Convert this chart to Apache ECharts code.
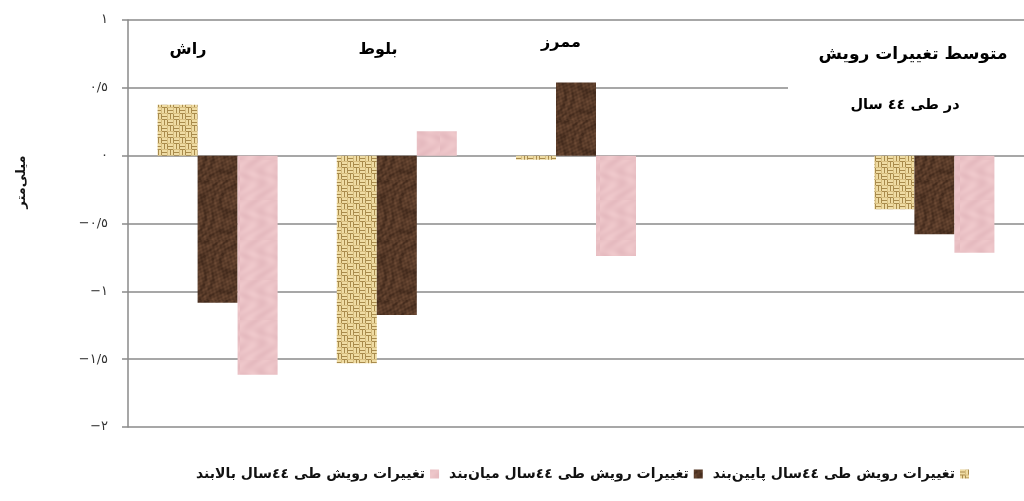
<!DOCTYPE html>
<html>
<head>
<meta charset="utf-8">
<script src="https://cdn.jsdelivr.net/npm/echarts@6/dist/echarts.min.js"></script>
<style>
html,body{margin:0;padding:0;background:#fff;}
#chart{width:1024px;height:501px;}
</style>
</head>
<body>
<div id="chart"></div>
<script>
// ---- data ----
const categories = ['راش', 'بلوط', 'ممرز', '', 'متوسط تغییرات رویش\nدر طی ٤٤ سال'];
const seriesNames = [
  'تغییرات رویش طی ٤٤سال پایین‌بند',
  'تغییرات رویش طی ٤٤سال میان‌بند',
  'تغییرات رویش طی ٤٤سال بالابند'
];
const lowerValues = [0.375, -1.53, -0.03, null, -0.395];
const middleValues = [-1.085, -1.175, 0.54, null, -0.58];
const upperValues = [-1.615, 0.18, -0.74, null, -0.715];
const yAxisName = 'میلی‌متر';

// ---- textures ----
function weavePattern() {
  const c = document.createElement('canvas');
  c.width = 12; c.height = 12;
  const g = c.getContext('2d');
  g.fillStyle = '#a98b4c'; g.fillRect(0, 0, 12, 12);
  g.fillStyle = '#efdca4';
  // TL & BR: horizontal strands, TR & BL: vertical strands
  g.fillRect(0, 0, 6, 2); g.fillRect(0, 3, 6, 2);
  g.fillRect(6, 6, 6, 2); g.fillRect(6, 9, 6, 2);
  g.fillRect(6, 0, 2, 6); g.fillRect(9, 0, 2, 6);
  g.fillRect(0, 6, 2, 6); g.fillRect(3, 6, 2, 6);
  g.fillStyle = '#d8bf80';
  g.fillRect(5, 0, 1, 6); g.fillRect(11, 6, 1, 6);
  g.fillRect(6, 5, 6, 1); g.fillRect(0, 11, 6, 1);
  return c;
}
function marblePattern() {
  const w = 60, h = 60;
  const c = document.createElement('canvas');
  c.width = w; c.height = h;
  const g = c.getContext('2d');
  const img = g.createImageData(w, h);
  for (let y = 0; y < h; y++) {
    for (let x = 0; x < w; x++) {
      const t = Math.sin((x * 0.21 + y * 0.13) + 2.2 * Math.sin(y * 0.105) + 1.5 * Math.sin(x * 0.157 + y * 0.05));
      const t2 = Math.sin(x * 1.3 + y * 0.7) * Math.sin(y * 1.1 - x * 0.4);
      const t3 = Math.sin(x * 0.45 - y * 0.33) * Math.cos(y * 0.52 + x * 0.21);
      let v = 1 - Math.pow(Math.abs(t), 4);
      const k = Math.max(0, Math.min(1, 0.16 * v + 0.1 * t2 + 0.08 * t3 + 0.08));
      const i = (y * w + x) * 4;
      img.data[i] = 66 + k * 110;
      img.data[i + 1] = 42 + k * 82;
      img.data[i + 2] = 28 + k * 62;
      img.data[i + 3] = 255;
    }
  }
  g.putImageData(img, 0, 0);
  return c;
}
function pinkPattern() {
  const w = 40, h = 40;
  const c = document.createElement('canvas');
  c.width = w; c.height = h;
  const g = c.getContext('2d');
  const img = g.createImageData(w, h);
  for (let y = 0; y < h; y++) {
    for (let x = 0; x < w; x++) {
      const t = Math.sin(x * 0.31 + Math.sin(y * 0.2) * 2) * Math.sin(y * 0.27 + x * 0.08);
      const i = (y * w + x) * 4;
      img.data[i] = 234 + t * 5;
      img.data[i + 1] = 193 + t * 7;
      img.data[i + 2] = 197 + t * 6;
      img.data[i + 3] = 255;
    }
  }
  g.putImageData(img, 0, 0);
  return c;
}

const arDigits = ['٠','١','٢','٣','٤','٥','٦','٧','٨','٩'];
function toArabicNum(v) {
  let s = String(Math.abs(v)).replace('.', '/');
  s = s.replace(/[0-9]/g, d => arDigits[+d]);
  return (v < 0 ? '\u2212' : '') + s;
}

const FONT = '"DejaVu Sans", sans-serif';
const chart = echarts.init(document.getElementById('chart'), null, { renderer: 'canvas' });

const fills = [
  { image: weavePattern(), repeat: 'repeat' },
  { image: marblePattern(), repeat: 'repeat' },
  { image: pinkPattern(), repeat: 'repeat' }
];
const dataSets = [lowerValues, middleValues, upperValues];

// label anchor per category line (layout only)
const labelPos = [
  [{ x: 188, y: 50, s: 16 }],
  [{ x: 378, y: 50, s: 16 }],
  [{ x: 561, y: 43, s: 16 }],
  null,
  [{ x: 913, y: 55, s: 17 }, { x: 905, y: 105, s: 14.5 }]
];
const graphics = [
  { type: 'rect', shape: { x: 788, y: 26, width: 240, height: 124 }, style: { fill: '#fff' }, z: 100 },
  { type: 'text', z: 101, x: 22, y: 182, rotation: Math.PI / 2,
    style: { text: yAxisName, fill: '#111', font: 'bold 13px ' + FONT, textAlign: 'center', textVerticalAlign: 'middle' } }
];
categories.forEach((c, i) => {
  if (!c || !labelPos[i]) return;
  c.split('\n').forEach((line, j) => {
    const p = labelPos[i][j];
    graphics.push({
      type: 'text', z: 101, x: p.x, y: p.y,
      style: { text: line, fill: '#000', font: 'bold ' + p.s + 'px ' + FONT, textAlign: 'center', textVerticalAlign: 'middle' }
    });
  });
});

chart.setOption({
  backgroundColor: '#fff',
  animation: false,
  grid: { left: 128, right: -4, top: 20, bottom: 74, containLabel: false },
  legend: {
    data: [seriesNames[2], seriesNames[1], seriesNames[0]],
    right: 50, bottom: 15, width: 2000,
    align: 'right', icon: 'rect', itemWidth: 9, itemHeight: 9, itemGap: 10,
    textStyle: { fontFamily: FONT, fontWeight: 'bold', fontSize: 14, color: '#111' }
  },
  xAxis: {
    type: 'category', data: categories,
    axisLine: { show: false }, axisTick: { show: false }, axisLabel: { show: false }
  },
  yAxis: {
    type: 'value', min: -2, max: 1, interval: 0.5,
    axisLine: { show: true, lineStyle: { color: '#8a8a8a', width: 1.5 } },
    axisTick: { show: true, length: 6, lineStyle: { color: '#8a8a8a', width: 1.5 } },
    axisLabel: { margin: 20, fontFamily: FONT, fontSize: 13, color: '#333', formatter: toArabicNum },
    splitLine: { lineStyle: { color: '#8a8a8a', width: 1.5 } }
  },
  series: dataSets.map((d, i) => ({
    name: seriesNames[i], type: 'bar', data: d,
    barWidth: 40, barGap: '0%',
    itemStyle: { color: fills[i] }
  })),
  graphic: graphics
});
</script>
</body>
</html>
